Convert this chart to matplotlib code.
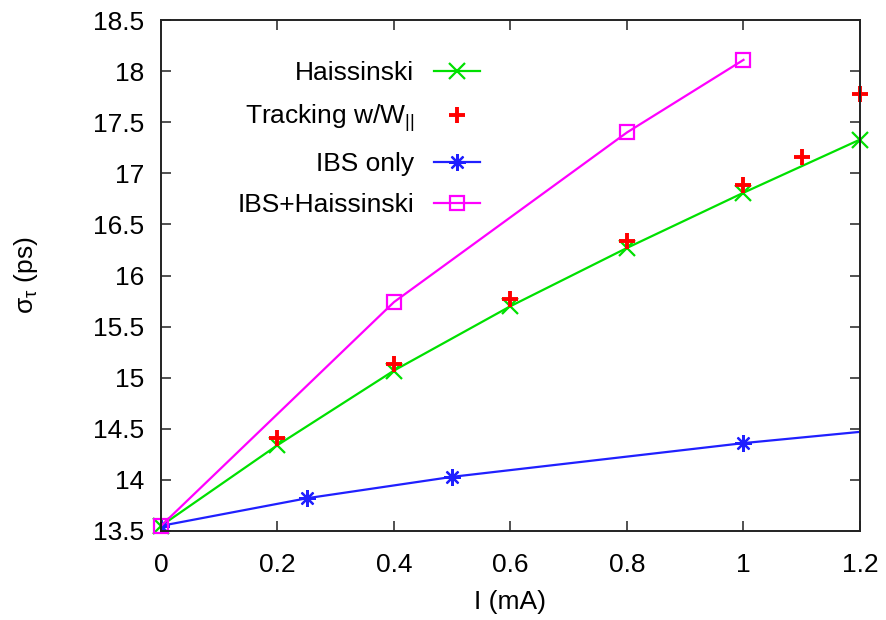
import matplotlib
matplotlib.use("Agg")
import matplotlib.pyplot as plt

plt.rcParams['font.family'] = ['Liberation Sans', 'DejaVu Sans']
plt.rcParams['mathtext.fontset'] = 'custom'
plt.rcParams['mathtext.rm'] = 'Liberation Sans'
plt.rcParams['mathtext.it'] = 'Liberation Sans:italic'

# Data
hais_x = [0.0, 0.2, 0.4, 0.6, 0.8, 1.0, 1.2]
hais_y = [13.55, 14.34, 15.07, 15.70, 16.27, 16.81, 17.33]

track_x = [0.2, 0.4, 0.6, 0.8, 1.0, 1.1, 1.2]
track_y = [14.41, 15.13, 15.77, 16.34, 16.89, 17.16, 17.78]

ibs_x = [0.0, 0.25, 0.5, 1.0, 1.5]
ibs_y = [13.55, 13.82, 14.03, 14.36, 14.635]

ibsh_x = [0.0, 0.4, 0.8, 1.0]
ibsh_y = [13.55, 15.74, 17.40, 18.11]

xticks = [0, 0.2, 0.4, 0.6, 0.8, 1.0, 1.2]
xticklabels = ["0", "0.2", "0.4", "0.6", "0.8", "1", "1.2"]
yticks = [13.5, 14, 14.5, 15, 15.5, 16, 16.5, 17, 17.5, 18, 18.5]
yticklabels = ["13.5", "14", "14.5", "15", "15.5", "16", "16.5", "17", "17.5", "18", "18.5"]

FS = 19

fig = plt.figure(figsize=(8.87, 6.2), dpi=100)
ax = fig.add_axes([161/887, 1-531/620, (860-161)/887, (531-20)/620])

green = '#00e000'
red = '#ff0000'
blue = '#2020ff'
magenta = '#ff00ff'

ax.plot(hais_x, hais_y, color=green, lw=1.6, marker='x', ms=11, mew=1.6,
        label='Haissinski', clip_on=False)
ax.plot(track_x, track_y, color=red, lw=0, marker='+', ms=11, mew=2.8,
        label=r'Tracking w/W$_{||}$', clip_on=False)
ax.plot(ibs_x, ibs_y, color=blue, lw=1.6, marker=(8, 2, 0), ms=12, mew=1.6,
        label='IBS only', clip_on=True)
ax.plot(ibsh_x, ibsh_y, color=magenta, lw=1.6, marker='s', ms=10, mew=1.6,
        mfc='none', label='IBS+Haissinski', clip_on=False)

ax.set_xlim(0, 1.2)
ax.set_ylim(13.5, 18.5)
ax.set_xticks(xticks)
ax.set_xticklabels(xticklabels)
ax.set_yticks(yticks)
ax.set_yticklabels(yticklabels)
ax.tick_params(direction='in', length=7, width=1.2, top=True, right=True,
               labelsize=FS, color='#333333')
ax.tick_params(axis='y', pad=12)
ax.tick_params(axis='x', pad=16)
for s in ax.spines.values():
    s.set_linewidth(1.4)
    s.set_color('#222222')

ax.set_xlabel('I (mA)', fontsize=FS, labelpad=9)
ax.set_ylabel('σ$_{\\mathregular{τ}}$ (ps)', fontsize=FS, labelpad=38)

leg = ax.legend(loc='upper right', bbox_to_anchor=(0.472, 0.94), frameon=False,
                markerfirst=False, fontsize=FS, handlelength=1.75,
                handletextpad=0.75, labelspacing=0.66, borderaxespad=0)

fig.savefig('out.png', dpi=100)
